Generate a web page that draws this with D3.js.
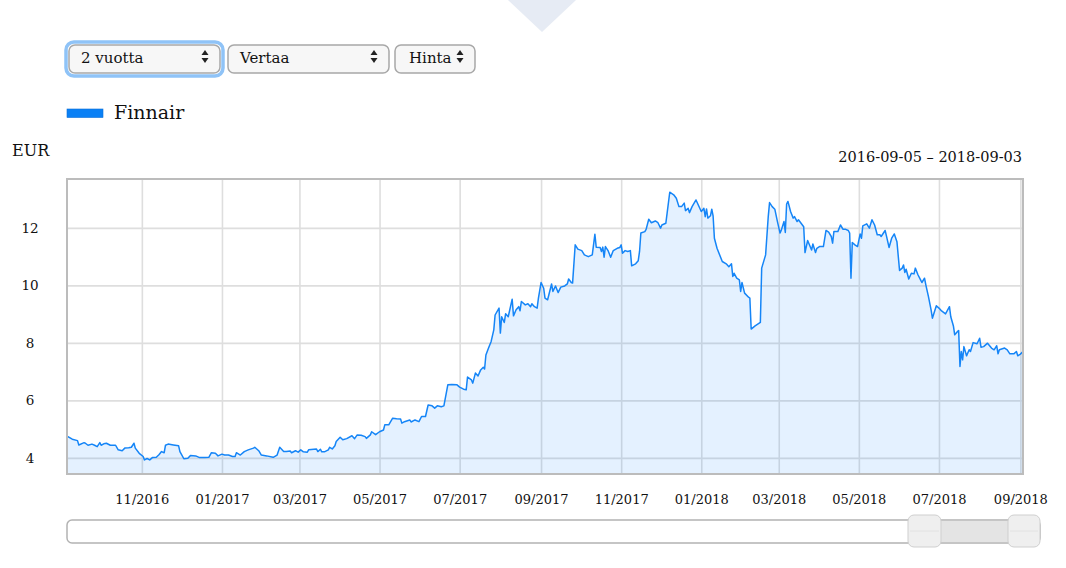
<!DOCTYPE html>
<html>
<head>
<meta charset="utf-8">
<script src="https://cdn.jsdelivr.net/npm/d3@7/dist/d3.min.js"></script>
<style>
  html, body { margin: 0; padding: 0; background: #fff; }
  svg { display: block; font-family: "DejaVu Serif", serif; }
</style>
</head>
<body>
<svg id="chart" width="1066" height="568"></svg>
<script>
// ---- data ----
const seriesName = "Finnair";
const unitLabel = "EUR";
const rangeLabel = "2016-09-05 – 2018-09-03";
const domainStart = "2016-09-05";
const domainEnd = "2018-09-03";
const periodOptions = ["2 vuotta", "Vertaa", "Hinta"];
const yTicks = [4, 6, 8, 10, 12];
const xTicks = ["2016-11-01","2017-01-01","2017-03-01","2017-05-01","2017-07-01","2017-09-01",
                "2017-11-01","2018-01-01","2018-03-01","2018-05-01","2018-07-01","2018-09-01"];
const dates = [
"2016-09-05","2016-09-09","2016-09-13","2016-09-14","2016-09-18","2016-09-19","2016-09-21","2016-09-24","2016-09-26","2016-09-28",
"2016-09-30","2016-10-01","2016-10-03","2016-10-05","2016-10-08","2016-10-12","2016-10-14","2016-10-17","2016-10-19","2016-10-22",
"2016-10-24","2016-10-26","2016-10-27","2016-10-30","2016-11-02","2016-11-03","2016-11-05","2016-11-07","2016-11-09","2016-11-12",
"2016-11-14","2016-11-16","2016-11-18","2016-11-19","2016-11-21","2016-11-25","2016-11-29","2016-11-30","2016-12-03","2016-12-06",
"2016-12-08","2016-12-12","2016-12-15","2016-12-19","2016-12-22","2016-12-24","2016-12-27","2016-12-29","2017-01-01","2017-01-03",
"2017-01-06","2017-01-09","2017-01-11","2017-01-12","2017-01-15","2017-01-18","2017-01-21","2017-01-25","2017-01-26","2017-01-29",
"2017-01-31","2017-02-04","2017-02-09","2017-02-12","2017-02-14","2017-02-17","2017-02-19","2017-02-22","2017-02-23","2017-02-26",
"2017-02-28","2017-03-02","2017-03-04","2017-03-07","2017-03-08","2017-03-12","2017-03-14","2017-03-15","2017-03-17","2017-03-18",
"2017-03-20","2017-03-23","2017-03-24","2017-03-26","2017-03-28","2017-03-29","2017-04-01","2017-04-03","2017-04-06","2017-04-10",
"2017-04-12","2017-04-14","2017-04-17","2017-04-20","2017-04-21","2017-04-24","2017-04-25","2017-04-28","2017-05-01","2017-05-04",
"2017-05-05","2017-05-08","2017-05-11","2017-05-14","2017-05-17","2017-05-18","2017-05-20","2017-05-24","2017-05-25","2017-05-28",
"2017-05-31","2017-06-02","2017-06-05","2017-06-07","2017-06-10","2017-06-12","2017-06-14","2017-06-17","2017-06-19","2017-06-22",
"2017-06-25","2017-06-29","2017-07-01","2017-07-04","2017-07-06","2017-07-07","2017-07-10","2017-07-11","2017-07-13","2017-07-15",
"2017-07-17","2017-07-19","2017-07-20","2017-07-21","2017-07-23","2017-07-25","2017-07-27","2017-07-28","2017-07-31","2017-08-01",
"2017-08-02","2017-08-04","2017-08-05","2017-08-07","2017-08-10","2017-08-11","2017-08-13","2017-08-15","2017-08-16","2017-08-17",
"2017-08-20","2017-08-22","2017-08-24","2017-08-25","2017-08-27","2017-08-29","2017-08-30","2017-09-01","2017-09-03","2017-09-04",
"2017-09-06","2017-09-09","2017-09-10","2017-09-12","2017-09-14","2017-09-16","2017-09-19","2017-09-21","2017-09-22","2017-09-24",
"2017-09-25","2017-09-27","2017-09-29","2017-10-02","2017-10-04","2017-10-07","2017-10-10","2017-10-12","2017-10-13","2017-10-16",
"2017-10-17","2017-10-18","2017-10-19","2017-10-20","2017-10-22","2017-10-24","2017-10-26","2017-10-29","2017-10-31","2017-11-01",
"2017-11-02","2017-11-04","2017-11-06","2017-11-08","2017-11-09","2017-11-12","2017-11-14","2017-11-15","2017-11-16","2017-11-19",
"2017-11-20","2017-11-22","2017-11-24","2017-11-27","2017-11-29","2017-12-01","2017-12-02","2017-12-05","2017-12-06","2017-12-08",
"2017-12-11","2017-12-13","2017-12-15","2017-12-17","2017-12-19","2017-12-20","2017-12-22","2017-12-23","2017-12-25","2017-12-28",
"2017-12-30","2018-01-01","2018-01-03","2018-01-04","2018-01-05","2018-01-06","2018-01-08","2018-01-09","2018-01-10","2018-01-11",
"2018-01-13","2018-01-17","2018-01-20","2018-01-22","2018-01-24","2018-01-25","2018-01-26","2018-01-28","2018-01-30","2018-01-31",
"2018-02-01","2018-02-03","2018-02-06","2018-02-07","2018-02-08","2018-02-11","2018-02-15","2018-02-16","2018-02-19","2018-02-21",
"2018-02-22","2018-02-24","2018-02-26","2018-02-28","2018-03-02","2018-03-03","2018-03-05","2018-03-06","2018-03-07","2018-03-08",
"2018-03-10","2018-03-12","2018-03-13","2018-03-15","2018-03-16","2018-03-18","2018-03-20","2018-03-21","2018-03-23","2018-03-26",
"2018-03-27","2018-03-29","2018-03-30","2018-04-01","2018-04-04","2018-04-06","2018-04-08","2018-04-10","2018-04-11","2018-04-12",
"2018-04-15","2018-04-17","2018-04-19","2018-04-21","2018-04-23","2018-04-24","2018-04-25","2018-04-26","2018-04-28","2018-04-30",
"2018-05-02","2018-05-03","2018-05-04","2018-05-07","2018-05-09","2018-05-11","2018-05-13","2018-05-15","2018-05-17","2018-05-18",
"2018-05-21","2018-05-22","2018-05-24","2018-05-26","2018-05-28","2018-05-30","2018-06-01","2018-06-03","2018-06-04","2018-06-05",
"2018-06-06","2018-06-08","2018-06-10","2018-06-12","2018-06-13","2018-06-15","2018-06-17","2018-06-18","2018-06-20","2018-06-21",
"2018-06-23","2018-06-25","2018-06-26","2018-06-29","2018-07-01","2018-07-03","2018-07-06","2018-07-09","2018-07-10","2018-07-12",
"2018-07-13","2018-07-15","2018-07-16","2018-07-17","2018-07-18","2018-07-19","2018-07-20","2018-07-22","2018-07-24","2018-07-25",
"2018-07-27","2018-07-30","2018-08-01","2018-08-02","2018-08-04","2018-08-07","2018-08-10","2018-08-12","2018-08-14","2018-08-15",
"2018-08-16","2018-08-20","2018-08-22","2018-08-24","2018-08-27","2018-08-29","2018-08-30","2018-09-01","2018-09-03"
];
const prices = [
4.76,4.65,4.60,4.45,4.53,4.51,4.44,4.48,4.44,4.39,
4.53,4.44,4.49,4.51,4.44,4.44,4.28,4.25,4.34,4.35,
4.37,4.51,4.34,4.16,4.05,3.93,3.98,3.93,4.01,4.02,
4.11,4.22,4.18,4.44,4.48,4.45,4.42,4.22,3.97,3.99,
4.08,4.07,4.01,4.01,4.02,4.18,4.16,4.07,4.13,4.10,
4.10,4.05,4.05,4.18,4.10,4.22,4.28,4.34,4.37,4.25,
4.10,4.07,4.02,4.10,4.37,4.22,4.22,4.24,4.18,4.25,
4.20,4.28,4.21,4.20,4.28,4.30,4.31,4.22,4.30,4.21,
4.21,4.28,4.37,4.31,4.42,4.57,4.72,4.63,4.67,4.77,
4.67,4.80,4.79,4.74,4.68,4.80,4.91,4.81,4.91,4.97,
5.15,5.15,5.38,5.36,5.35,5.21,5.26,5.32,5.25,5.32,
5.26,5.44,5.44,5.84,5.81,5.73,5.81,5.78,5.81,6.54,
6.55,6.54,6.46,6.39,6.37,6.81,6.71,6.60,6.95,6.85,
7.06,7.15,7.09,7.58,7.82,8.05,8.45,8.97,9.21,8.34,
8.91,8.71,9.01,8.91,9.52,8.94,9.15,9.26,9.12,9.44,
9.32,9.36,9.26,9.36,9.26,9.21,9.56,10.10,9.90,9.56,
9.50,10.05,9.79,9.98,9.75,9.94,9.98,10.05,10.22,10.10,
10.08,11.41,11.26,11.21,11.06,11.00,11.06,11.78,11.33,11.32,
11.18,11.33,10.98,11.35,11.21,10.98,11.21,11.29,11.32,11.41,
11.12,11.21,11.18,11.21,10.68,10.75,10.86,11.18,11.82,11.87,
11.95,12.30,12.18,12.24,12.18,11.99,12.10,12.16,12.51,13.24,
13.15,13.03,12.74,12.74,12.86,12.60,12.68,12.53,12.74,12.97,
12.77,12.57,12.68,12.39,12.66,12.34,12.42,12.65,12.42,11.64,
11.29,10.83,10.75,10.65,10.75,10.31,10.42,10.25,10.19,9.79,
10.10,9.73,9.59,9.56,8.48,8.59,8.71,10.60,11.06,12.39,
12.88,12.74,12.65,12.22,11.82,11.93,12.22,11.84,12.83,12.92,
12.57,12.34,12.39,12.22,12.28,12.16,12.04,11.14,11.56,11.23,
11.44,11.14,11.29,11.35,11.35,11.91,11.85,11.70,11.47,11.87,
11.87,12.10,11.95,11.95,11.91,11.82,10.25,11.49,11.41,11.35,
11.79,11.64,12.07,12.14,11.99,12.28,12.10,11.76,11.76,11.70,
11.91,11.72,11.32,11.64,11.79,11.52,10.52,10.60,10.71,10.45,
10.56,10.22,10.42,10.40,10.60,10.37,10.19,10.10,10.25,10.02,
9.61,9.15,8.86,9.29,9.21,9.11,9.01,9.26,8.91,8.59,
8.28,8.39,8.43,7.18,7.70,7.41,7.87,7.55,7.76,7.70,
8.01,7.97,8.16,7.85,7.87,7.99,7.82,7.76,7.90,7.62,
7.76,7.82,7.76,7.62,7.62,7.70,7.55,7.61,7.70
];

// ---- build ----
const parse = d3.utcParse("%Y-%m-%d");
const data = dates.map((d, i) => ({ date: parse(d), value: prices[i] }));

const svg = d3.select("#chart");
const plot = { left: 67, right: 1023, top: 179, bottom: 474 };

const x = d3.scaleUtc().domain([parse(domainStart), parse(domainEnd)]).range([plot.left, plot.right]);
const y = d3.scaleLinear().domain([3.44, 13.7]).range([plot.bottom, plot.top]);

// decorative top triangle
svg.append("path").attr("d", "M508,0 L576,0 L542,32 Z").attr("fill", "#e6ebf4");

// select controls
const selects = [
  { x: 69, w: 151, label: periodOptions[0], focus: true, tx: 81 },
  { x: 228, w: 161, label: periodOptions[1], focus: false, tx: 240 },
  { x: 395, w: 80, label: periodOptions[2], focus: false, tx: 409 }
];
selects.forEach(s => {
  const g = svg.append("g");
  if (s.focus) {
    g.append("rect").attr("x", s.x - 3).attr("y", 42).attr("width", s.w + 6).attr("height", 34)
      .attr("rx", 8).attr("fill", "none").attr("stroke", "#8fc3f7").attr("stroke-width", 3.5);
  }
  g.append("rect").attr("x", s.x).attr("y", 45).attr("width", s.w).attr("height", 28)
    .attr("rx", 6).attr("fill", "#f7f7f7").attr("stroke", "#a8a8a8").attr("stroke-width", 1.5);
  g.append("text").attr("x", s.tx).attr("y", 62.5).attr("font-size", 15).attr("fill", "#111").text(s.label);
  const ax = s.x + s.w - 15;
  g.append("path").attr("d", `M${ax - 3.5},55 L${ax + 3.5},55 L${ax},50 Z`).attr("fill", "#222");
  g.append("path").attr("d", `M${ax - 3.5},58 L${ax + 3.5},58 L${ax},63 Z`).attr("fill", "#222");
});

// legend
svg.append("rect").attr("x", 67).attr("y", 109).attr("width", 36).attr("height", 8.5)
  .attr("fill", "#0a80f5").attr("stroke", "#0a6fd8").attr("stroke-width", 0.6);
svg.append("text").attr("x", 114).attr("y", 118.5).attr("font-size", 19).attr("fill", "#111").text(seriesName);

// unit label and range label
svg.append("text").attr("x", 12).attr("y", 156).attr("font-size", 16).attr("fill", "#111").text(unitLabel);
svg.append("text").attr("x", 1022).attr("y", 161.5).attr("font-size", 14.5).attr("text-anchor", "end")
  .attr("fill", "#111").text(rangeLabel);

// grid
const tickDates = xTicks.map(parse);
const gridX = svg.append("g").attr("transform", `translate(0,${plot.bottom})`)
  .call(d3.axisBottom(x).tickValues(tickDates).tickSize(-(plot.bottom - plot.top)).tickFormat(""));
gridX.select(".domain").remove();
gridX.selectAll("line").attr("stroke", "#dedede").attr("stroke-width", 1.6);

const gridY = svg.append("g").attr("transform", `translate(${plot.left},0)`)
  .call(d3.axisLeft(y).tickValues(yTicks).tickSize(-(plot.right - plot.left)).tickFormat(""));
gridY.select(".domain").remove();
gridY.selectAll("line").attr("stroke", "#dedede").attr("stroke-width", 1.6);

// area + line
const area = d3.area().x(d => x(d.date)).y0(plot.bottom).y1(d => y(d.value));
const line = d3.line().x(d => x(d.date)).y(d => y(d.value));
svg.append("path").datum(data).attr("d", area).attr("fill", "rgba(10,132,255,0.11)");
svg.append("path").datum(data).attr("d", line).attr("fill", "none")
  .attr("stroke", "#1585f7").attr("stroke-width", 1.5).attr("stroke-linejoin", "round");

// frame
svg.append("rect").attr("x", plot.left).attr("y", plot.top)
  .attr("width", plot.right - plot.left).attr("height", plot.bottom - plot.top)
  .attr("fill", "none").attr("stroke", "#bcbcbc").attr("stroke-width", 2);

// axis labels
const xAxis = svg.append("g").attr("transform", `translate(0,${plot.bottom})`)
  .call(d3.axisBottom(x).tickValues(tickDates).tickSize(0).tickPadding(21).tickFormat(d3.utcFormat("%m/%Y")));
xAxis.select(".domain").remove();
xAxis.selectAll("text").attr("font-family", "DejaVu Serif").attr("font-size", 13).attr("fill", "#111");

const yAxis = svg.append("g").attr("transform", `translate(${plot.left},0)`)
  .call(d3.axisLeft(y).tickValues(yTicks).tickSize(0).tickFormat(d3.format("d")));
yAxis.select(".domain").remove();
yAxis.selectAll("text").attr("x", -37).attr("text-anchor", "middle")
  .attr("font-family", "DejaVu Serif").attr("font-size", 13.5).attr("fill", "#111");

// range slider
const sx = d3.scaleUtc().domain([parse(domainStart), parse(domainEnd)]).range([67, 1040]);
svg.append("rect").attr("x", 67).attr("y", 520).attr("width", 973).attr("height", 23).attr("rx", 5)
  .attr("fill", "#fff").attr("stroke", "#b3b3b3").attr("stroke-width", 1.5);
svg.append("rect").attr("x", 922).attr("y", 521).attr("width", 102).attr("height", 21)
  .attr("fill", "#e4e4e4");
[[908, 941], [1008, 1040]].forEach(([a, b]) => {
  svg.append("rect").attr("x", a).attr("y", 515).attr("width", b - a).attr("height", 32).attr("rx", 6)
    .attr("fill", "#efefef").attr("stroke", "#cfcfcf").attr("stroke-width", 1);
  svg.append("line").attr("x1", a + 2).attr("x2", b - 2).attr("y1", 531).attr("y2", 531)
    .attr("stroke", "#e2e2e2").attr("stroke-width", 1);
});
</script>
</body>
</html>
